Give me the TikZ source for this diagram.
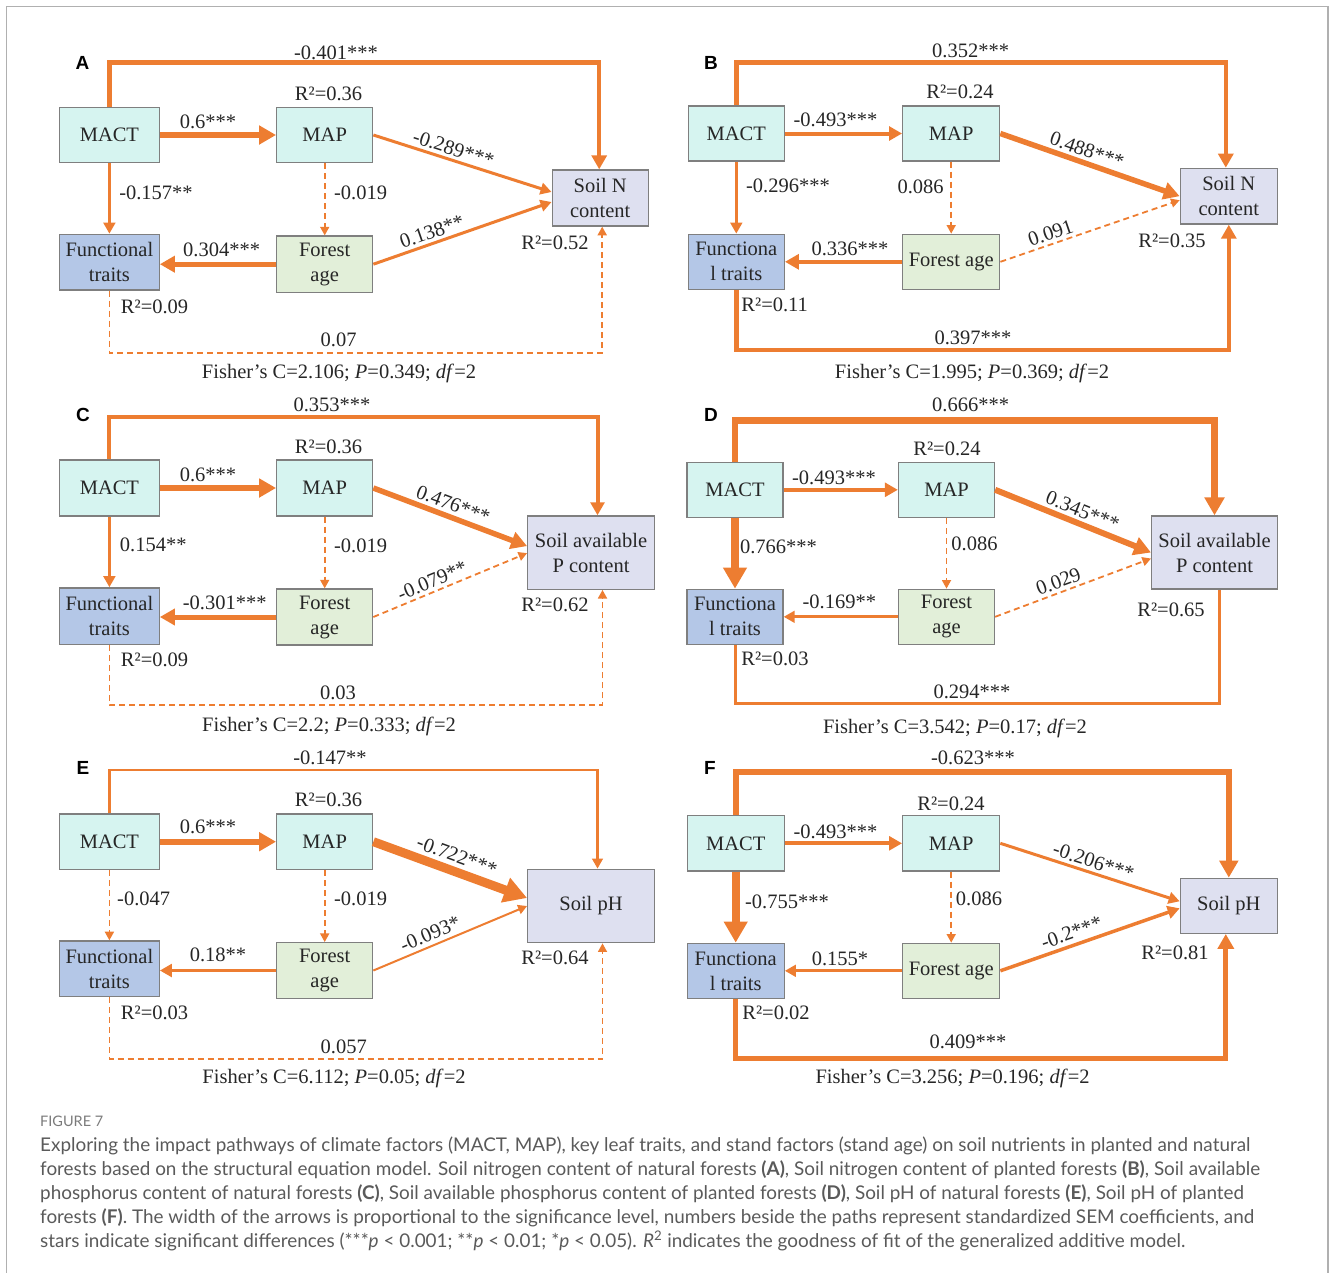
\documentclass[tikz,border=0pt]{standalone}
\usepackage{fontspec}
\setmainfont{Liberation Serif}
\newfontfamily\capfont{Lato}
\newfontfamily\letfont{Liberation Sans}
\usetikzlibrary{arrows.meta,calc}
\definecolor{org}{HTML}{ED7D31}
\definecolor{cyanf}{HTML}{D6F4F0}
\definecolor{bluef}{HTML}{B4C7E7}
\definecolor{greenf}{HTML}{E2EFD9}
\definecolor{lavf}{HTML}{DEE0F0}
\definecolor{boxd}{HTML}{7F7F7F}
\definecolor{txt}{HTML}{262626}
\definecolor{capc}{HTML}{5A5A5A}
\definecolor{framec}{HTML}{B0B0B0}
\begin{document}
\begin{tikzpicture}[x=1pt,y=-1pt,
  bx/.style={draw=boxd, line width=1.3pt, inner sep=0pt, align=center, text=txt,
    font=\fontsize{20.5}{25}\selectfont},
  cy/.style={bx, fill=cyanf},
  bl/.style={bx, fill=bluef},
  gr/.style={bx, fill=greenf},
  lv/.style={bx, fill=lavf},
  sz/.style 2 args={minimum width=#1pt, minimum height=#2pt},
  lb/.style={font=\fontsize{20.5}{24}\selectfont, text=txt, inner sep=0pt},
  pl/.style={font=\letfont\bfseries\fontsize{19}{22}\selectfont, text=black, inner sep=0pt},
  ar/.style={draw=org, line width=#1pt, -{Triangle[length=5pt 2, width=5pt 2.2]}},
  ln/.style={draw=org, line width=#1pt},
  dsh/.style={draw=org, line width=1.8pt, dash pattern=on 6pt off 4pt},
  dar/.style={dsh, -{Triangle[length=5pt 2, width=5pt 2.2]}},
  captx/.style={font=\capfont\fontsize{18.9}{24}\selectfont, text=capc, inner sep=0pt, anchor=base west}
]
\useasboundingbox (0,0) rectangle (1330,1272);
\draw[framec, line width=1.3pt] (6.5,6.5) rectangle (1328,1320);

% ================= Panel A =================
\node[pl] (LA) at (82.6,62.7) {A};
\node[cy, sz={99.6}{55.4}] (mA) at (109.4,135) {MACT};
\node[cy, sz={96}{55.4}] (pA) at (324.7,135) {MAP};
\node[lv, sz={96}{56}] (sA) at (600.2,198) {Soil N\\content};
\node[bl, sz={99.6}{55.7}] (fA) at (109.4,262.2) {Functional\\traits};
\node[gr, sz={96}{56.3}] (oA) at (324.7,264.2) {Forest\\age};
\coordinate (tA) at (336,62.3);
\coordinate (bA) at (338,352.7);
\draw[ar=4.5] (mA.north) |- (tA) -| ([xshift=-1pt]sA.north);
\draw[ar=6] (mA.east) -- (pA.west);
\draw[ar=3] (pA.east) -- node[lb, sloped, above=3pt, pos=0.43] (eA1) {-0.289***} ([yshift=6pt]sA.west);
\draw[ar=3] (mA.south) -- (mA.south |- fA.north);
\draw[dar] (pA.south) -- (pA.south |- oA.north);
\draw[ar=5] (oA.west) -- (oA.west -| fA.east);
\draw[ar=3] (oA.east) -- node[lb, sloped, above=3pt, pos=0.35] (eA2) {0.138**} ([yshift=-4pt]sA.west);
\draw[dar] (fA.south) |- (bA) -| ([xshift=2pt]sA.south);
\node[lb] (tlA) at (336,52.7) {-0.401***};
\node[lb] (rA1) at (328.6,94) {R²=0.36};
\node[lb] (eA3) at (208,121.7) {0.6***};
\node[lb] (eA4) at (156,192.7) {-0.157**};
\node[lb] (eA5) at (360.6,192.7) {-0.019};
\node[lb] (eA6) at (221.6,250) {0.304***};
\node[lb] (rA2) at (555,243) {R²=0.52};
\node[lb] (rA3) at (154.6,306.7) {R²=0.09};
\node[lb] (eA7) at (338.6,340) {0.07};
\node[lb] (fiA) at (339,373.3) {Fisher’s C=2.106; \textit{P}=0.349; \textit{df}=2};

% ================= Panel B =================
\node[pl] (LB) at (711,62.5) {B};
\node[cy, sz={96}{55}] (mB) at (736.3,133.5) {MACT};
\node[cy, sz={97}{55}] (pB) at (951.2,133.5) {MAP};
\node[lv, sz={97}{55.7}] (sB) at (1228.8,196.2) {Soil N\\content};
\node[bl, sz={96}{55}] (fB) at (736.3,261.8) {Functiona\\l traits};
\node[gr, sz={97}{55}] (oB) at (951.2,261.8) {Forest age};
\coordinate (tB) at (970,62.3);
\coordinate (bB) at (972,350);
\draw[ar=4.5] (mB.north) |- (tB) -| ([xshift=-3pt]sB.north);
\draw[ar=4] (mB.east) -- (pB.west);
\draw[ar=5.5] (pB.east) -- node[lb, sloped, above=3pt, pos=0.46] (eB1) {0.488***} (sB.west);
\draw[ar=3] (mB.south) -- (mB.south |- fB.north);
\draw[dar] (pB.south) -- (pB.south |- oB.north);
\draw[ar=4.5] (oB.west) -- (oB.west -| fB.east);
\draw[dar] (oB.east) -- node[lb, sloped, above=3pt, pos=0.30] (eB2) {0.091} ([yshift=-4pt]sB.west);
\draw[ar=4.5] (fB.south) |- (bB) -| (sB.south);
\node[lb] (tlB) at (970.6,50.7) {0.352***};
\node[lb] (rB1) at (960,91.7) {R²=0.24};
\node[lb] (eB3) at (835.5,120) {-0.493***};
\node[lb] (eB4) at (788,186) {-0.296***};
\node[lb] (eB5) at (920.6,186.7) {0.086};
\node[lb] (eB6) at (850,249.3) {0.336***};
\node[lb] (rB2) at (1172,240.7) {R²=0.35};
\node[lb] (rB3) at (774.7,305) {R²=0.11};
\node[lb] (eB7) at (973,338.3) {0.397***};
\node[lb] (fiB) at (972,373.3) {Fisher’s C=1.995; \textit{P}=0.369; \textit{df}=2};

% ================= Panel C =================
\node[pl] (LC) at (83,415) {C};
\node[cy, sz={99.6}{56}] (mC) at (109.4,488) {MACT};
\node[cy, sz={96}{56}] (pC) at (324.7,488) {MAP};
\node[lv, sz={126.5}{73.3}] (sC) at (591,552.6) {Soil available\\P content};
\node[bl, sz={99.6}{56.3}] (fC) at (109.4,616) {Functional\\traits};
\node[gr, sz={96}{56}] (oC) at (324.7,617) {Forest\\age};
\coordinate (tC) at (332,416.7);
\coordinate (bC) at (338,705);
\draw[ar=4] (mC.north) |- (tC) -| ([xshift=6.5pt]sC.north);
\draw[ar=6] (mC.east) -- (pC.west);
\draw[ar=5.5] (pC.east) -- node[lb, sloped, above=3pt, pos=0.49] (eC1) {0.476***} ([yshift=6.5pt]sC.west);
\draw[ar=3] (mC.south) -- (mC.south |- fC.north);
\draw[dar] (pC.south) -- (pC.south |- oC.north);
\draw[ar=5] (oC.west) -- (oC.west -| fC.east);
\draw[dar] (oC.east) -- node[lb, sloped, above=3pt, pos=0.41] (eC2) {-0.079**} ([yshift=-0.5pt]sC.west);
\draw[dar] (fC.south) |- (bC) -| ([xshift=11.5pt]sC.south);
\node[lb] (tlC) at (332,405) {0.353***};
\node[lb] (rC1) at (328.6,447.3) {R²=0.36};
\node[lb] (eC3) at (208,475) {0.6***};
\node[lb] (eC4) at (153.3,545) {0.154**};
\node[lb] (eC5) at (360.6,546) {-0.019};
\node[lb] (eC6) at (224.7,603) {-0.301***};
\node[lb] (rC2) at (555,605) {R²=0.62};
\node[lb] (rC3) at (154.6,660) {R²=0.09};
\node[lb] (eC7) at (338,693) {0.03};
\node[lb] (fiC) at (329,726.7) {Fisher’s C=2.2; \textit{P}=0.333; \textit{df}=2};

% ================= Panel D =================
\node[pl] (LD) at (711,415) {D};
\node[cy, sz={96}{55}] (mD) at (735,489.8) {MACT};
\node[cy, sz={96}{55}] (pD) at (946.5,489.8) {MAP};
\node[lv, sz={125.7}{73}] (sD) at (1214.5,552.5) {Soil available\\P content};
\node[bl, sz={96}{55}] (fD) at (735,616.8) {Functiona\\l traits};
\node[gr, sz={96}{55}] (oD) at (946.5,616.8) {Forest\\age};
\coordinate (tD) at (970,420.7);
\coordinate (bD) at (972,703.3);
\draw[ar=6.5] (mD.north) |- (tD) -| (sD.north);
\draw[ar=4] (mD.east) -- (pD.west);
\draw[ar=6] (pD.east) -- node[lb, sloped, above=3pt, pos=0.53] (eD1) {0.345***} (sD.west);
\draw[ar=8] (mD.south) -- (mD.south |- fD.north);
\draw[dar] (pD.south) -- (pD.south |- oD.north);
\draw[ar=3] (oD.west) -- (oD.west -| fD.east);
\draw[dar] (oD.east) -- node[lb, sloped, above=3pt, pos=0.43] (eD2) {0.029} ([yshift=-6pt]sD.west);
\draw[ln=3] (fD.south) |- (bD) -| ([xshift=4.5pt]sD.south);
\node[lb] (tlD) at (970.6,405) {0.666***};
\node[lb] (rD1) at (947,449) {R²=0.24};
\node[lb] (eD3) at (834,477.7) {-0.493***};
\node[lb] (eD4) at (778.5,546.7) {0.766***};
\node[lb] (eD5) at (974.5,544) {0.086};
\node[lb] (eD6) at (839.3,602.3) {-0.169**};
\node[lb] (rD2) at (1171,610) {R²=0.65};
\node[lb] (rD3) at (775,659.3) {R²=0.03};
\node[lb] (eD7) at (972,691.7) {0.294***};
\node[lb] (fiD) at (955,728.3) {Fisher’s C=3.542; \textit{P}=0.17; \textit{df}=2};

% ================= Panel E =================
\node[pl] (LE) at (83,768) {E};
\node[cy, sz={99.6}{55.3}] (mE) at (109.4,841.7) {MACT};
\node[cy, sz={96}{55.3}] (pE) at (324.7,841.7) {MAP};
\node[lv, sz={126.5}{73.4}] (sE) at (591,906) {Soil pH};
\node[bl, sz={99.6}{55.7}] (fE) at (109.4,968.8) {Functional\\traits};
\node[gr, sz={96}{55.6}] (oE) at (324.7,970.5) {Forest\\age};
\coordinate (tE) at (330,770);
\coordinate (bE) at (343,1059);
\draw[ar=2.5] (mE.north) |- (tE) -| ([xshift=6.5pt]sE.north);
\draw[ar=6] (mE.east) -- (pE.west);
\draw[ar=9] (pE.east) -- node[lb, sloped, above=4pt, pos=0.51] (eE1) {-0.722***} ([yshift=8pt]sE.west);
\draw[dar] (mE.south) -- (mE.south |- fE.north);
\draw[dar] (pE.south) -- (pE.south |- oE.north);
\draw[ar=3.5] (oE.west) -- (oE.west -| fE.east);
\draw[ar=2] (oE.east) -- node[lb, sloped, above=4pt, pos=0.40] (eE2) {-0.093*} (sE.west);
\draw[dar] (fE.south) |- (bE) -| ([xshift=11.5pt]sE.south);
\node[lb] (tlE) at (330,758.3) {-0.147**};
\node[lb] (rE1) at (328.6,800) {R²=0.36};
\node[lb] (eE3) at (208,826.7) {0.6***};
\node[lb] (eE4) at (143.7,899) {-0.047};
\node[lb] (eE5) at (360.6,899) {-0.019};
\node[lb] (eE6) at (218,955) {0.18**};
\node[lb] (rE2) at (555,958) {R²=0.64};
\node[lb] (rE3) at (154.6,1013) {R²=0.03};
\node[lb] (eE7) at (343.8,1046.7) {0.057};
\node[lb] (fiE) at (334,1078) {Fisher’s C=6.112; \textit{P}=0.05; \textit{df}=2};

% ================= Panel F =================
\node[pl] (LF) at (710,768) {F};
\node[cy, sz={97}{55.3}] (mF) at (735.7,843.3) {MACT};
\node[cy, sz={97}{55.3}] (pF) at (951.2,843.3) {MAP};
\node[lv, sz={97}{55}] (sF) at (1228.8,905.8) {Soil pH};
\node[bl, sz={97}{55}] (fF) at (735.7,970.8) {Functiona\\l traits};
\node[gr, sz={97}{55}] (oF) at (951.2,970.8) {Forest age};
\coordinate (tF) at (973,771.7);
\coordinate (bF) at (968,1058.3);
\draw[ar=6] (mF.north) |- (tF) -| (sF.north);
\draw[ar=4] (mF.east) -- (pF.west);
\draw[ar=3] (pF.east) -- node[lb, sloped, above=3pt, pos=0.5] (eF1) {-0.206***} ([yshift=4.5pt]sF.west);
\draw[ar=8] (mF.south) -- (mF.south |- fF.north);
\draw[dar] (pF.south) -- (pF.south |- oF.north);
\draw[ar=3] (oF.west) -- (oF.west -| fF.east);
\draw[ar=3.5] (oF.east) -- node[lb, sloped, above=4pt, pos=0.42] (eF2) {-0.2***} ([yshift=-2.5pt]sF.west);
\draw[ar=5] (fF.south) |- (bF) -| ([xshift=-3pt]sF.south);
\node[lb] (tlF) at (973,758.3) {-0.623***};
\node[lb] (rF1) at (951,804) {R²=0.24};
\node[lb] (eF3) at (835.5,831.7) {-0.493***};
\node[lb] (eF4) at (787,901.7) {-0.755***};
\node[lb] (eF5) at (979,899) {0.086};
\node[lb] (eF6) at (840,959.3) {0.155*};
\node[lb] (rF2) at (1175,953.3) {R²=0.81};
\node[lb] (rF3) at (776,1013.3) {R²=0.02};
\node[lb] (eF7) at (968,1041.7) {0.409***};
\node[lb] (fiF) at (952.6,1078.3) {Fisher’s C=3.256; \textit{P}=0.196; \textit{df}=2};

% ================= Caption =================
\node[captx, font=\capfont\fontsize{14.5}{16}\selectfont, text=capc!80] (fig) at (40,1126) {FIGURE 7};
\node[captx] (c1) at (40,1151) {Exploring the impact pathways of climate factors (MACT, MAP), key leaf traits, and stand factors (stand age) on soil nutrients in planted and natural};
\node[captx] (c2) at (40,1175) {forests based on the structural equation model. Soil nitrogen content of natural forests \textbf{(A)}, Soil nitrogen content of planted forests \textbf{(B)}, Soil available};
\node[captx] (c3) at (40,1199) {phosphorus content of natural forests \textbf{(C)}, Soil available phosphorus content of planted forests \textbf{(D)}, Soil pH of natural forests \textbf{(E)}, Soil pH of planted};
\node[captx] (c4) at (40,1223) {forests \textbf{(F)}. The width of the arrows is proportional to the significance level, numbers beside the paths represent standardized SEM coefficients, and};
\node[captx] (c5) at (40,1247) {stars indicate significant differences (***\textit{p} < 0.001; **\textit{p} < 0.01; *\textit{p} < 0.05). \textit{R}\textsuperscript{2} indicates the goodness of fit of the generalized additive model.};
\end{tikzpicture}
\end{document}
